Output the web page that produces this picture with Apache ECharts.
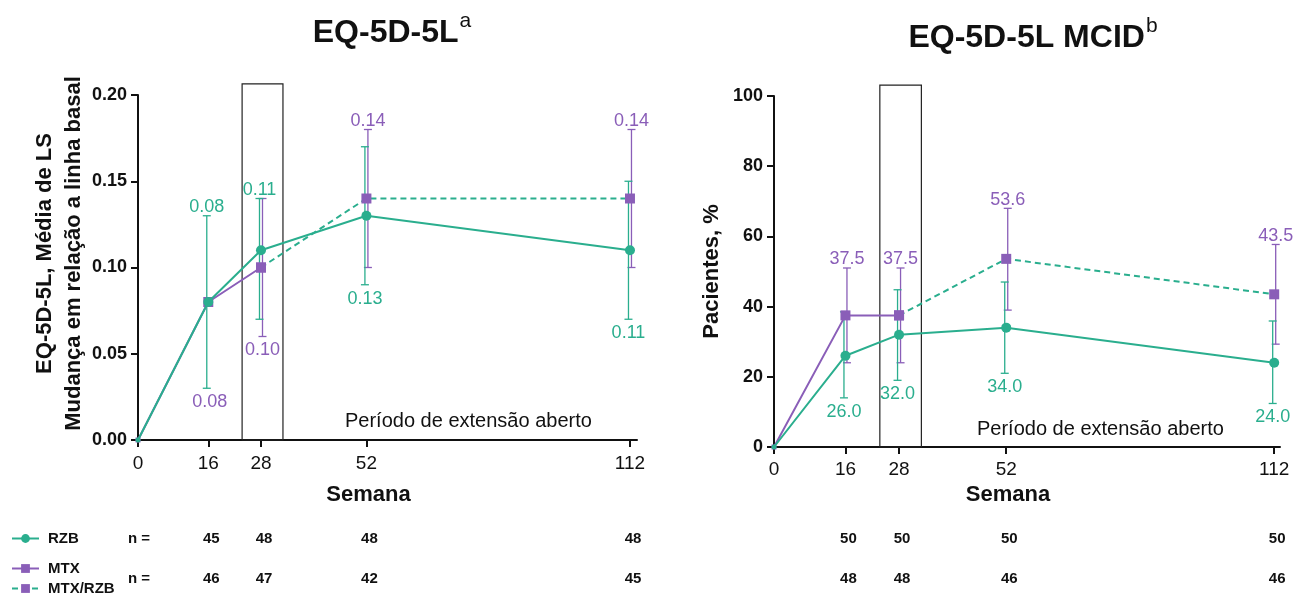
<!DOCTYPE html>
<html>
<head>
<meta charset="utf-8">
<script src="https://cdn.jsdelivr.net/npm/echarts@6/dist/echarts.min.js"></script>
<style>html,body{margin:0;padding:0;background:#fff}#c{width:1302px;height:598px}</style>
</head>
<body>
<div id="c"></div>
<script>
// ---------- data ----------
const weeks = [0, 16, 28, 52, 112];
const tickWeeks = [0, 16, 28, 52, 112];
const nWeeks = [16, 28, 52, 112];
const boxWeeks = [23.7, 33.0];

// EQ-5D-5L (left)
const eqRZB      = [0, 0.08, 0.11, 0.13, 0.11];
const eqRZBLow   = [null, 0.03, 0.07, 0.09, 0.07];
const eqRZBHigh  = [null, 0.13, 0.14, 0.17, 0.15];
const eqMTX      = [0, 0.08, 0.10, null, null];
const eqMTXRZB   = [null, null, 0.10, 0.14, 0.14];
const eqPurple   = [0, 0.08, 0.10, 0.14, 0.14];
const eqPurpleLow  = [null, null, 0.06, 0.10, 0.10];
const eqPurpleHigh = [null, null, 0.14, 0.18, 0.18];
const eqBoxTop = 0.2064;
const nEqRZB = [45, 48, 48, 48];
const nEqMTX = [46, 47, 42, 45];

// EQ-5D-5L MCID (right)
const mcRZB      = [0, 26.0, 32.0, 34.0, 24.0];
const mcRZBLow   = [null, 14.0, 19.0, 21.0, 12.4];
const mcRZBHigh  = [null, 38.5, 44.8, 47.0, 35.9];
const mcMTX      = [0, 37.5, 37.5, null, null];
const mcMTXRZB   = [null, null, 37.5, 53.6, 43.5];
const mcPurple   = [0, 37.5, 37.5, 53.6, 43.5];
const mcPurpleLow  = [null, 24.0, 24.0, 39.0, 29.3];
const mcPurpleHigh = [null, 51.0, 51.0, 68.0, 57.7];
const mcBoxTop = 103.1;
const nMcRZB = [50, 50, 50, 50];
const nMcMTX = [48, 48, 46, 46];

// ---------- style ----------
const TEAL = '#2aae8e';
const PURPLE = '#8a5eb8';
const FONT = '"Liberation Sans", Arial, Helvetica, sans-serif';
const AXIS = '#111';

const chart = echarts.init(document.getElementById('c'));

function pairs(vals) { return weeks.map((w, i) => vals[i] == null ? [w, null] : [w, vals[i]]); }

function errData(mean, low, high, otherMean, otherLow, otherHigh, isTeal) {
  const out = [];
  weeks.forEach((w, i) => {
    if (i === 0) return;
    const above = isTeal ? (mean[i] >= otherMean[i]) : (mean[i] > otherMean[i]);
    const has = low[i] != null;
    const lo = has ? low[i] : otherLow[i];
    const hi = has ? high[i] : otherHigh[i];
    out.push([w, lo, hi, mean[i], above ? 1 : 0, has ? 1 : 0]);
  });
  return out;
}

function errSeries(ax, data, color, dx, decimals, z) {
  return {
    type: 'custom', xAxisIndex: ax, yAxisIndex: ax, clip: false, silent: true, z: z,
    data: data,
    renderItem: function (params, api) {
      const w = api.value(0), lo = api.value(1), hi = api.value(2), m = api.value(3);
      const above = api.value(4) === 1, has = api.value(5) === 1;
      const pLo = api.coord([w, lo]), pHi = api.coord([w, hi]);
      const x = pLo[0] + dx;
      const ch = [];
      if (has) {
        const st = { stroke: color, lineWidth: 1.3 };
        ch.push({ type: 'line', shape: { x1: x, y1: pLo[1], x2: x, y2: pHi[1] }, style: st });
        ch.push({ type: 'line', shape: { x1: x - 4, y1: pLo[1], x2: x + 4, y2: pLo[1] }, style: st });
        ch.push({ type: 'line', shape: { x1: x - 4, y1: pHi[1], x2: x + 4, y2: pHi[1] }, style: st });
      }
      ch.push({
        type: 'text', x: x, y: above ? pHi[1] + 0.5 : pLo[1] + 5,
        style: { text: m.toFixed(decimals), fill: color, font: '18px ' + FONT, align: 'center', verticalAlign: above ? 'bottom' : 'top' }
      });
      return { type: 'group', children: ch };
    }
  };
}

function boxSeries(ax, top) {
  return {
    type: 'custom', xAxisIndex: ax, yAxisIndex: ax, clip: false, silent: true, z: 1,
    data: [[boxWeeks[0], boxWeeks[1], top]],
    renderItem: function (params, api) {
      const p0 = api.coord([api.value(0), 0]);
      const p1 = api.coord([api.value(1), api.value(2)]);
      return { type: 'rect', shape: { x: p0[0], y: p1[1], width: p1[0] - p0[0], height: p0[1] - p1[1] },
        style: { fill: 'none', stroke: '#222', lineWidth: 1.2 } };
    }
  };
}

function nSeries(ax, r, m) {
  return {
    type: 'custom', xAxisIndex: ax, yAxisIndex: ax, clip: false, silent: true,
    data: nWeeks.map((w, i) => [w, r[i], m[i]]),
    renderItem: function (params, api) {
      const x = api.coord([api.value(0), 0])[0] + 3;
      const f = 'bold 15px ' + FONT;
      return { type: 'group', children: [
        { type: 'text', x: x, y: 539, style: { text: String(api.value(1)), fill: '#111', font: f, align: 'center', verticalAlign: 'middle' } },
        { type: 'text', x: x, y: 579, style: { text: String(api.value(2)), fill: '#111', font: f, align: 'center', verticalAlign: 'middle' } }
      ] };
    }
  };
}

function lineSeries(name, ax, vals, lineColor, symColor, symbol, dashed, z) {
  return {
    name: name, type: 'line', xAxisIndex: ax, yAxisIndex: ax, data: pairs(vals), z: z,
    symbol: symbol, symbolSize: function (v) { return v[0] === 0 ? 5 : 10; },
    showSymbol: true, connectNulls: false,
    lineStyle: { color: lineColor, width: 2, type: dashed ? [6, 4] : 'solid' },
    itemStyle: { color: symColor, borderWidth: 0 },
    emphasis: { disabled: true }
  };
}

function xAxis(gi, max, margin, gap) {
  return {
    type: 'value', gridIndex: gi, min: 0, max: max,
    name: 'Semana', nameLocation: 'middle', nameGap: gap,
    nameTextStyle: { fontFamily: FONT, fontWeight: 'bold', fontSize: 22, color: '#111', padding: [0, 38, 0, 0] },
    axisLine: { show: true, onZero: false, lineStyle: { color: AXIS, width: 2 } },
    axisTick: { show: true, length: 7, inside: false, customValues: tickWeeks, lineStyle: { color: AXIS, width: 2 } },
    axisLabel: { customValues: tickWeeks, margin: margin, fontFamily: FONT, fontSize: 19, color: '#111' },
    splitLine: { show: false }
  };
}

function yAxis(gi, max, interval, dec, name, gap, pad) {
  return {
    type: 'value', gridIndex: gi, min: 0, max: max, interval: interval,
    name: name, nameLocation: 'middle', nameGap: gap, nameRotate: 90,
    nameTextStyle: { fontFamily: FONT, fontWeight: 'bold', fontSize: 22, lineHeight: 29, color: '#111', padding: pad },
    axisLine: { show: true, onZero: false, lineStyle: { color: AXIS, width: 2 } },
    axisTick: { show: true, length: 7, lineStyle: { color: AXIS, width: 2 } },
    axisLabel: { margin: 11, fontFamily: FONT, fontWeight: 'bold', fontSize: 18, color: '#111',
      formatter: function (v) { return v.toFixed(dec); } },
    splitLine: { show: false }
  };
}

const titleRich = {
  m: { fontFamily: FONT, fontWeight: 'bold', fontSize: 32, color: '#111', lineHeight: 38, verticalAlign: 'bottom' },
  s: { fontFamily: FONT, fontWeight: 'normal', fontSize: 21, color: '#111', lineHeight: 38, verticalAlign: 'top', padding: [0, 0, 0, 1] }
};

const legendText = { fontFamily: FONT, fontWeight: 'bold', fontSize: 15, color: '#111', padding: [0, 0, 0, 4] };

const option = {
  animation: false,
  backgroundColor: '#fff',
  title: [
    { text: '{m|EQ-5D-5L}{s|a}', left: 387, top: 6, textAlign: 'center', textStyle: { rich: titleRich } },
    { text: '{m|EQ-5D-5L MCID}{s|b}', left: 1028, top: 11, textAlign: 'center', textStyle: { rich: titleRich } }
  ],
  legend: [
    { data: ['RZB'], left: 11, top: 531, padding: 0, itemWidth: 27, itemHeight: 11, itemGap: 4, selectedMode: false,
      textStyle: legendText },
    { data: ['MTX', 'MTX/RZB'], orient: 'vertical', left: 11, top: 561, padding: 0, itemWidth: 27, itemHeight: 11, itemGap: 5, selectedMode: false,
      textStyle: legendText }
  ],
  grid: [
    { left: 138, top: 95, right: 665, bottom: 158 },
    { left: 774, top: 96, right: 22, bottom: 151 }
  ],
  xAxis: [xAxis(0, 113.6, 14, 44), xAxis(1, 113.3, 13, 36)],
  yAxis: [
    yAxis(0, 0.20, 0.05, 2, 'EQ-5D-5L, Média de LS\nMudança em relação a linha basal', 49, [0, 0, 0, 28]),
    yAxis(1, 100, 20, 0, 'Pacientes, %', 48, [0, 0, 0, 0])
  ],
  graphic: [
    { type: 'text', left: 345, top: 411, style: { text: 'Período de extensão aberto', font: '20px ' + FONT, fill: '#111' } },
    { type: 'text', left: 977, top: 419, style: { text: 'Período de extensão aberto', font: '20px ' + FONT, fill: '#111' } },
    { type: 'text', left: 128, top: 531, style: { text: 'n =', font: 'bold 15px ' + FONT, fill: '#111' } },
    { type: 'text', left: 128, top: 571, style: { text: 'n =', font: 'bold 15px ' + FONT, fill: '#111' } }
  ],
  series: [
    boxSeries(0, eqBoxTop),
    boxSeries(1, mcBoxTop),
    errSeries(0, errData(eqPurple, eqPurpleLow, eqPurpleHigh, eqRZB, eqRZBLow, eqRZBHigh, false), PURPLE, 1.5, 2, 3),
    errSeries(0, errData(eqRZB, eqRZBLow, eqRZBHigh, eqPurple, eqPurpleLow, eqPurpleHigh, true), TEAL, -1.5, 2, 3),
    errSeries(1, errData(mcPurple, mcPurpleLow, mcPurpleHigh, mcRZB, mcRZBLow, mcRZBHigh, false), PURPLE, 1.5, 1, 3),
    errSeries(1, errData(mcRZB, mcRZBLow, mcRZBHigh, mcPurple, mcPurpleLow, mcPurpleHigh, true), TEAL, -1.5, 1, 3),
    lineSeries('MTX/RZB', 0, eqMTXRZB, TEAL, PURPLE, 'rect', true, 4),
    lineSeries('MTX', 0, eqMTX, PURPLE, PURPLE, 'rect', false, 5),
    lineSeries('RZB', 0, eqRZB, TEAL, TEAL, 'circle', false, 6),
    lineSeries('MTX/RZB', 1, mcMTXRZB, TEAL, PURPLE, 'rect', true, 4),
    lineSeries('MTX', 1, mcMTX, PURPLE, PURPLE, 'rect', false, 5),
    lineSeries('RZB', 1, mcRZB, TEAL, TEAL, 'circle', false, 6),
    nSeries(0, nEqRZB, nEqMTX),
    nSeries(1, nMcRZB, nMcMTX)
  ]
};
chart.setOption(option);
</script>
</body>
</html>
